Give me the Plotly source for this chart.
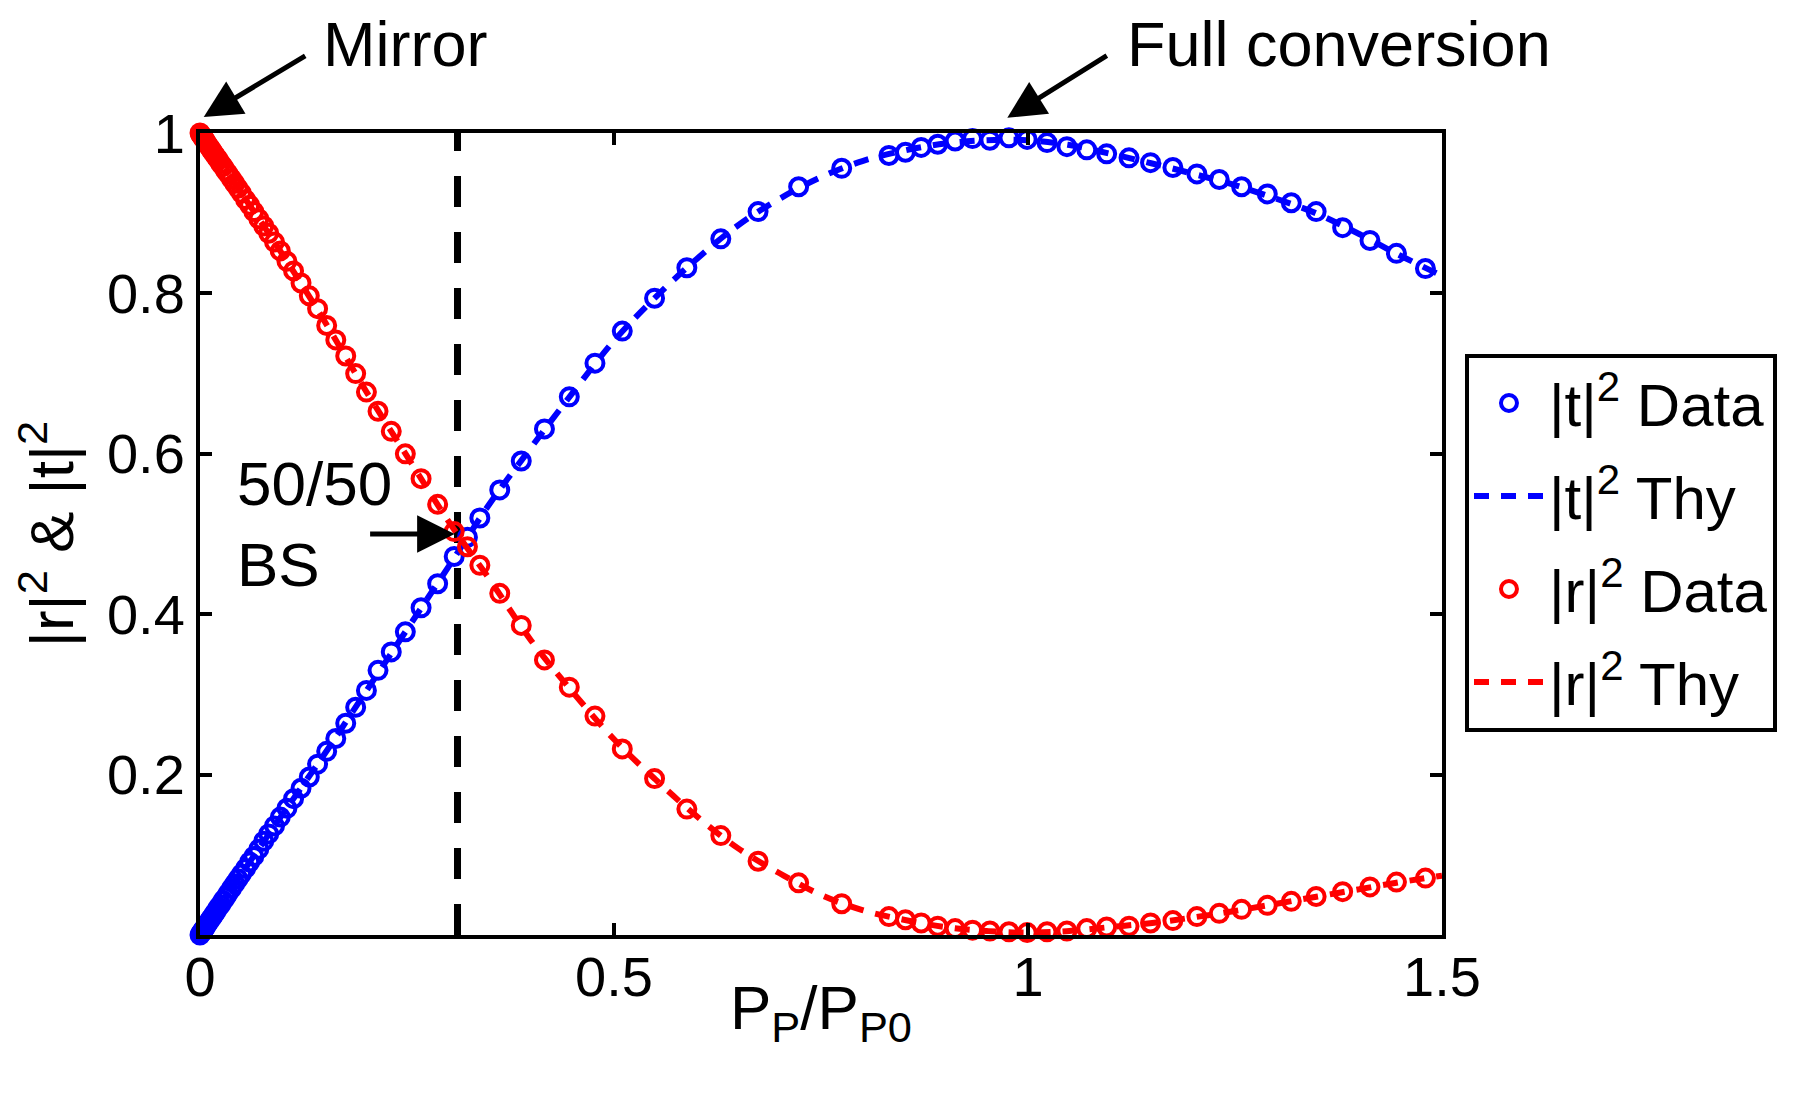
import plotly.graph_objects as go

# ---------------- data ----------------
x_data = [0, 0.001, 0.002, 0.003, 0.004, 0.005, 0.006, 0.007, 0.009, 0.011, 0.013, 0.015,
          0.017, 0.019, 0.022, 0.025, 0.028, 0.031, 0.034, 0.038, 0.042, 0.046, 0.050, 0.055,
          0.060, 0.065, 0.071, 0.077, 0.083, 0.090, 0.097, 0.105, 0.113, 0.122, 0.132, 0.142,
          0.153, 0.164, 0.176, 0.188, 0.201, 0.215, 0.231, 0.248, 0.267, 0.287, 0.307, 0.323,
          0.338, 0.362, 0.388, 0.416, 0.446, 0.477, 0.510, 0.549, 0.588, 0.629, 0.674, 0.723,
          0.775, 0.832, 0.852, 0.871, 0.891, 0.912, 0.933, 0.954, 0.977, 0.999, 1.023, 1.047,
          1.071, 1.095, 1.122, 1.148, 1.175, 1.204, 1.231, 1.258, 1.289, 1.318, 1.348, 1.380,
          1.413, 1.445, 1.480]

t2_data = [0.000, 0.002, 0.003, 0.005, 0.006, 0.008, 0.009, 0.011, 0.014, 0.017, 0.020, 0.023,
           0.026, 0.029, 0.034, 0.038, 0.043, 0.047, 0.052, 0.058, 0.064, 0.070, 0.076, 0.083,
           0.091, 0.098, 0.107, 0.117, 0.126, 0.136, 0.147, 0.158, 0.170, 0.183, 0.197, 0.213,
           0.229, 0.245, 0.264, 0.284, 0.305, 0.330, 0.353, 0.378, 0.408, 0.438, 0.472, 0.496,
           0.520, 0.555, 0.591, 0.631, 0.671, 0.713, 0.753, 0.794, 0.832, 0.868, 0.902, 0.933,
           0.956, 0.972, 0.976, 0.982, 0.986, 0.990, 0.993, 0.991, 0.994, 0.992, 0.988, 0.983,
           0.979, 0.974, 0.969, 0.963, 0.957, 0.949, 0.942, 0.933, 0.924, 0.913, 0.902, 0.882,
           0.866, 0.850, 0.831]

r2_data = [1.000, 0.998, 0.997, 0.995, 0.994, 0.992, 0.991, 0.989, 0.986, 0.983, 0.980, 0.977,
           0.974, 0.971, 0.967, 0.962, 0.958, 0.953, 0.949, 0.943, 0.937, 0.931, 0.925, 0.917,
           0.910, 0.902, 0.893, 0.884, 0.875, 0.864, 0.853, 0.840, 0.828, 0.813, 0.797, 0.781,
           0.760, 0.742, 0.722, 0.700, 0.677, 0.653, 0.628, 0.600, 0.569, 0.537, 0.503, 0.484,
           0.461, 0.426, 0.386, 0.343, 0.309, 0.273, 0.232, 0.195, 0.157, 0.124, 0.092, 0.065,
           0.039, 0.023, 0.019, 0.015, 0.011, 0.008, 0.006, 0.005, 0.004, 0.003, 0.004, 0.005,
           0.008, 0.010, 0.011, 0.015, 0.018, 0.023, 0.027, 0.032, 0.037, 0.042, 0.048, 0.054,
           0.060, 0.066, 0.071]

x_thy = [0, 0.05, 0.1, 0.15, 0.2, 0.25, 0.3, 0.35, 0.4, 0.45, 0.5, 0.55, 0.6, 0.65, 0.7, 0.75,
         0.8, 0.85, 0.9, 0.95, 1.0, 1.05, 1.1, 1.15, 1.2, 1.25, 1.3, 1.35, 1.4, 1.45, 1.5]
t2_thy = [0.0, 0.076, 0.151, 0.225, 0.303, 0.381, 0.459, 0.538, 0.608, 0.676, 0.741, 0.795,
          0.843, 0.885, 0.918, 0.945, 0.965, 0.978, 0.987, 0.991, 0.991, 0.985, 0.974, 0.962,
          0.949, 0.935, 0.918, 0.899, 0.874, 0.847, 0.822]
r2_thy = [1.0, 0.925, 0.848, 0.766, 0.679, 0.597, 0.516, 0.443, 0.367, 0.303, 0.244, 0.194,
          0.148, 0.108, 0.077, 0.050, 0.031, 0.019, 0.010, 0.005, 0.003, 0.005, 0.010, 0.015,
          0.022, 0.030, 0.039, 0.048, 0.057, 0.066, 0.074]

bs_x = 0.311          # 50/50 beam-splitter point
x_ticks = [0, 0.5, 1, 1.5]
x_ticktext = ["0", "0.5", "1", "1.5"]
y_ticks = [0.2, 0.4, 0.6, 0.8, 1]
y_ticktext = ["0.2", "0.4", "0.6", "0.8", "1"]

# ---------------- styling ----------------
FONT = "Liberation Sans, Arial, sans-serif"
BLUE = "#0000FF"
RED = "#FF0000"

fig = go.Figure()

fig.add_trace(go.Scatter(
    x=[bs_x, bs_x], y=[0, 1], mode="lines",
    line=dict(color="black", width=7, dash="31px,25px"),
    showlegend=False, hoverinfo="skip"))

fig.add_trace(go.Scatter(
    x=x_data, y=t2_data, mode="markers", name="|t|<sup>2</sup> Data",
    legendgroup="a", cliponaxis=False,
    marker=dict(symbol="circle-open", size=17, color=BLUE, line=dict(width=4, color=BLUE))))
fig.add_trace(go.Scatter(
    x=x_thy, y=t2_thy, mode="lines", name="|t|<sup>2</sup> Thy", line_shape="spline",
    legendgroup="b", cliponaxis=False,
    line=dict(color=BLUE, width=6, dash="15px,12px")))
fig.add_trace(go.Scatter(
    x=x_data, y=r2_data, mode="markers", name="|r|<sup>2</sup> Data",
    legendgroup="c", cliponaxis=False,
    marker=dict(symbol="circle-open", size=17, color=RED, line=dict(width=4, color=RED))))
fig.add_trace(go.Scatter(
    x=x_thy, y=r2_thy, mode="lines", name="|r|<sup>2</sup> Thy", line_shape="spline",
    legendgroup="d", cliponaxis=False,
    line=dict(color=RED, width=6, dash="15px,12px")))

axis_common = dict(
    showline=True, linewidth=4, linecolor="black", mirror="ticks",
    ticks="inside", ticklen=12, tickwidth=4, tickcolor="black",
    showgrid=False, zeroline=False,
    tickfont=dict(family=FONT, size=56, color="black"),
)

fig.update_xaxes(range=[0, 1.5], tickvals=x_ticks, ticktext=x_ticktext,
                 ticklabelstandoff=-10, **axis_common)
fig.update_yaxes(range=[0, 1], tickvals=y_ticks, ticktext=y_ticktext,
                 title=dict(text="|r|<sup>2</sup> &amp; |t|<sup>2</sup>",
                            font=dict(family=FONT, size=62, color="black"), standoff=18),
                 **axis_common)

ARW = dict(showarrow=True, arrowhead=2, arrowsize=1.5, arrowwidth=5, arrowcolor="black", text="")
annos = [
    # arrows
    dict(x=0.003, y=1.02, xref="paper", yref="paper", ax=103, ay=-62, **ARW),
    dict(x=0.65, y=1.019, xref="paper", yref="paper", ax=101, ay=-63, **ARW),
    dict(x=0.3075, y=0.5, xref="x", yref="y", ax=-86, ay=0, **ARW),
    # texts
    dict(x=0.165, y=1.111, xref="paper", yref="paper", text="Mirror", showarrow=False,
         xanchor="center", yanchor="middle", font=dict(family=FONT, size=63, color="black")),
    dict(x=0.917, y=1.111, xref="paper", yref="paper", text="Full conversion", showarrow=False,
         xanchor="center", yanchor="middle", font=dict(family=FONT, size=63, color="black")),
    dict(x=0.042, y=0.512, xref="x", yref="y", text="50/50<br>BS", showarrow=False,
         xanchor="left", yanchor="middle", align="left",
         font=dict(family=FONT, size=62, color="black")),
    # x-axis title
    dict(x=0.5, y=-0.045, xref="paper", yref="paper", text="P<sub>P</sub>/P<sub>P0</sub>",
         showarrow=False, xanchor="center", yanchor="top",
         font=dict(family=FONT, size=62, color="black")),
]

# page has an 8px body margin: figure sized so the plot area lands where the reference has it
fig.update_layout(
    width=1781, height=1079,
    margin=dict(l=192, r=345, t=125, b=152),
    paper_bgcolor="white", plot_bgcolor="white",
    annotations=annos,
    legend=dict(x=1.0185, y=0.725, xanchor="left", yanchor="top",
                bordercolor="black", borderwidth=4, bgcolor="white",
                font=dict(family=FONT, size=60, color="black"),
                tracegroupgap=12, itemwidth=70),
    showlegend=True,
)

fig.write_html("out.html")
